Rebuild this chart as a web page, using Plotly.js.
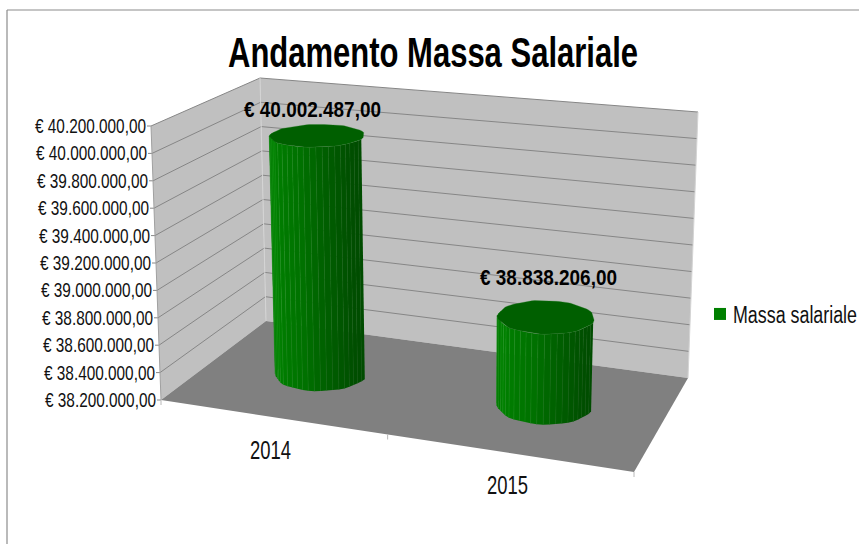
<!DOCTYPE html>
<html><head><meta charset="utf-8">
<script src="https://cdn.plot.ly/plotly-3.0.1.min.js"></script>
<style>html,body{margin:0;padding:0;background:#fff}#c{width:859px;height:544px}</style>
</head><body><div id="c"></div>
<script>
// ---- data ----
const categories = ['2014', '2015'];
const seriesName = 'Massa salariale';
const values = [40002487, 38838206];
const valueLabels = ['€ 40.002.487,00', '€ 38.838.206,00'];
const yTicks = [38200000,38400000,38600000,38800000,39000000,39200000,39400000,39600000,39800000,40000000,40200000];
const yTickLabels = ['€ 38.200.000,00','€ 38.400.000,00','€ 38.600.000,00','€ 38.800.000,00','€ 39.000.000,00','€ 39.200.000,00','€ 39.400.000,00','€ 39.600.000,00','€ 39.800.000,00','€ 40.000.000,00','€ 40.200.000,00'];
const titleText = 'Andamento Massa Salariale';
const yMin = 38200000, yMax = 40200000;

// ---- view (perspective box drawn on a pixel-scaled plotly axis pair) ----
const FONT = '"Liberation Sans",Arial,sans-serif';
const floorQ = [[161,400],[634,472],[688,378],[266,321]];
const topQ   = [[151,126],[646,171],[698,112],[260,78]];
const catU = [0.25, 0.75], barD = 0.5, rU = 0.098, rD = 0.2;
const labelOff = [[-5,-26],[4,-39]];

function homography(q){
  const [[x0,y0],[x1,y1],[x2,y2],[x3,y3]] = q;
  const dx1=x1-x2, dx2=x3-x2, sx=x0-x1+x2-x3, dy1=y1-y2, dy2=y3-y2, sy=y0-y1+y2-y3;
  const den=dx1*dy2-dx2*dy1, g=(sx*dy2-dx2*sy)/den, h=(dx1*sy-sx*dy1)/den;
  const a=x1-x0+g*x1, b=x3-x0+h*x3, d=y1-y0+g*y1, e=y3-y0+h*y3;
  return (u,v)=>{const w=g*u+h*v+1; return [(a*u+b*v+x0)/w,(d*u+e*v+y0)/w];};
}
const F = homography(floorQ), T = homography(topQ);
const hOf = v => (v-yMin)/(yMax-yMin);
function P(u,d,h){const f=F(u,d),t=T(u,d);return [f[0]+(t[0]-f[0])*h,f[1]+(t[1]-f[1])*h];}

const traces=[];
function poly(pts,fill,line,lw){
  traces.push({type:'scatter',mode:line?'lines':'none',x:pts.map(p=>p[0]).concat(pts[0][0]),y:pts.map(p=>p[1]).concat(pts[0][1]),
    fill:'toself',fillcolor:fill,line:{color:line||fill,width:lw||0},showlegend:false,hoverinfo:'skip'});
}
function seg(list,color,w){
  const x=[],y=[];
  list.forEach(s=>{x.push(s[0][0],s[1][0],null);y.push(s[0][1],s[1][1],null);});
  traces.push({type:'scatter',mode:'lines',x,y,line:{color,width:w},showlegend:false,hoverinfo:'skip'});
}
poly([P(0,0,0),P(0,1,0),P(0,1,1),P(0,0,1)],'#C0C0C0');
poly([P(0,1,0),P(1,1,0),P(1,1,1),P(0,1,1)],'#C0C0C0');
poly([P(0,0,0),P(1,0,0),P(1,1,0),P(0,1,0)],'#808080');
const gl=[];
yTicks.forEach(v=>{const h=hOf(v);
  if(h>0) gl.push([P(0,0,h),P(0,1,h)]);
  if(h>0) gl.push([P(0,1,h),P(1,1,h)]);
  gl.push([[P(0,0,h)[0]-4,P(0,0,h)[1]],P(0,0,h)]);
});
seg(gl,'#868686',1);
seg([[P(0,0,0),P(0,0,1)]],'#A0A0A0',1);
seg([[P(0,1,0),P(0,1,1)],[P(1,1,0),P(1,1,1)]],'#D4D4D4',1);
const ct=[0,0.5,1].map(u=>{const p=P(u,0,0);return [p,[p[0],p[1]+5]];});
seg(ct,'#B8B8B8',1);

const N=48, SCALLOP=0.015;
function rim(u0,t,h){const r=1+SCALLOP*Math.cos(9*t);return P(u0+rU*r*Math.cos(t),barD+rD*r*Math.sin(t),h);}
function green(f){
  return f<0.15 ? 114+(128-114)*f/0.15 : f<0.55 ? 128-(128-112)*(f-0.15)/0.4 : 112-(112-76)*(f-0.55)/0.45;
}
values.forEach((v,i)=>{
  const u0=catU[i], h=hOf(v);
  for(let k=0;k<N/2;k++){
    const t0=Math.PI+k*2*Math.PI/N, t1=t0+2*Math.PI/N, f=(Math.cos((t0+t1)/2)+1)/2;
    const g=Math.round(green(f));
    const p=[rim(u0,t0,0),rim(u0,t1,0),rim(u0,t1,h),rim(u0,t0,h)];
    poly(p,`rgb(0,${g},0)`);
    const lt=Math.round(12+14*(1-f));
    seg([[p[0],p[3]]],`rgb(${lt},${g+lt},${lt})`,0.6);
  }
  const cap=[];for(let k=0;k<N*2;k++)cap.push(rim(u0,k*Math.PI/N,h));
  poly(cap,'#005F00','#1e7a1e',0.3);
});
traces.push({type:'scatter',mode:'markers',x:[null],y:[null],name:seriesName,marker:{symbol:'square',size:16,color:'#008000'},hoverinfo:'skip'});
seg([[[7,544],[7,10]],[[7,10],[859,10]]],'#8C8C8C',1.2);

const ann=[], fits={};
yTicks.forEach((v,i)=>{const p=P(0,0,hOf(v));
  ann.push({x:p[0]-5,y:p[1]-0.5,xref:'x',yref:'y',text:yTickLabels[i],showarrow:false,xanchor:'right',yanchor:'middle',font:{family:FONT,size:20.5,color:'#111'}});
  fits[yTickLabels[i]]=[p[0]-5-111,p[0]-5];});
const catY=[449.5,485], catX=[[250,291],[487,528]];
categories.forEach((c,i)=>{
  ann.push({x:(catX[i][0]+catX[i][1])/2,y:catY[i],xref:'x',yref:'y',text:c,showarrow:false,xanchor:'center',yanchor:'middle',font:{family:FONT,size:25,color:'#111'}});
  fits[c]=catX[i];});
const valX=[[244,381],[480,617]];
values.forEach((v,i)=>{const p=P(catU[i],barD,hOf(v));
  ann.push({x:p[0]+labelOff[i][0],y:p[1]+labelOff[i][1],xref:'x',yref:'y',text:valueLabels[i],showarrow:false,xanchor:'center',yanchor:'middle',font:{family:FONT,size:22,weight:700,color:'#000'}});
  fits[valueLabels[i]]=valX[i];});
fits[titleText]=[228,638];
fits[seriesName]=[733,857];

Plotly.newPlot('c',traces,{
  width:859,height:544,margin:{l:0,r:0,t:0,b:0,pad:0,autoexpand:false},paper_bgcolor:'#fff',plot_bgcolor:'#fff',
  title:{text:titleText,x:433/859,xanchor:'center',xref:'paper',y:1-52/544,yanchor:'middle',yref:'paper',font:{family:FONT,size:42,weight:700,color:'#000'}},
  xaxis:{range:[0,859],visible:false,fixedrange:true},
  yaxis:{range:[544,0],visible:false,fixedrange:true},
  showlegend:true,
  legend:{x:700/859,xanchor:'left',y:1-314/544,yanchor:'middle',font:{family:FONT,size:23,color:'#111'},bgcolor:'rgba(0,0,0,0)',borderwidth:0,itemsizing:'constant',entrywidth:100,entrywidthmode:'pixels'},
  annotations:ann
},{displayModeBar:false,staticPlot:true}).then(gd=>{
  // Narrow the glyphs of each real text element to the condensed width of the reference face.
  gd.querySelectorAll('svg text').forEach(el=>{
    const fit=fits[el.textContent]; if(!fit) return;
    el.setAttribute('textLength',fit[1]-fit[0]);
    el.setAttribute('lengthAdjust','spacingAndGlyphs');
    const r=el.getBoundingClientRect();
    el.setAttribute('x',(+el.getAttribute('x')||0)+(fit[0]-r.left));
  });
  document.querySelectorAll('.legend .scrollbox').forEach(s=>s.removeAttribute('clip-path'));
});
</script></body></html>
